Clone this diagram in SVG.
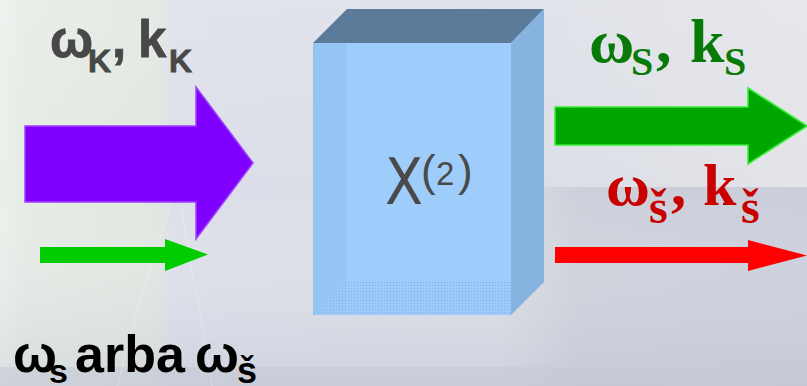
<svg xmlns="http://www.w3.org/2000/svg" width="807" height="386" viewBox="0 0 807 386">
<defs>
<linearGradient id="bgH" x1="0" y1="0" x2="1" y2="0">
<stop offset="0" stop-color="#ecf0ec"/>
<stop offset="0.03" stop-color="#e5ebe5"/>
<stop offset="0.19" stop-color="#e1e7e0"/>
<stop offset="0.215" stop-color="#dcdfe9"/>
<stop offset="0.6" stop-color="#dadde6"/>
<stop offset="1" stop-color="#e3e4e8"/>
</linearGradient>
<linearGradient id="bgV" x1="0" y1="0" x2="0" y2="1">
<stop offset="0" stop-color="#ffffff" stop-opacity="0.15"/>
<stop offset="0.5" stop-color="#ffffff" stop-opacity="0"/>
<stop offset="1" stop-color="#b8bccb" stop-opacity="0.35"/>
</linearGradient>
<linearGradient id="bandR" x1="0" y1="0" x2="1" y2="0">
<stop offset="0" stop-color="#cdd0da" stop-opacity="0"/>
<stop offset="0.25" stop-color="#cdd0da" stop-opacity="1"/>
<stop offset="1" stop-color="#cacedb" stop-opacity="1"/>
</linearGradient>
<pattern id="dots" width="3" height="3" patternUnits="userSpaceOnUse">
<rect width="3" height="3" fill="#9ccaf8"/>
<rect width="1" height="1" fill="#7fa8d4"/>
</pattern>
<style>
.sans{font-family:"Liberation Sans",Arial,sans-serif;font-weight:bold}
.serif{font-family:"Liberation Serif","DejaVu Serif",serif;font-weight:bold}
.grey{fill:#484848}
.green{fill:#087a08}
.red{fill:#c80000}
</style>
</defs>
<g id="background">
<rect width="807" height="386" fill="url(#bgH)"/>
<rect x="500" y="187" width="307" height="199" fill="url(#bandR)"/>
<rect width="807" height="386" fill="url(#bgV)"/>
<rect x="0" y="367" width="807" height="19" fill="#c6c9d5" opacity="0.6"/>
<path d="M172,200 C150,270 130,330 118,386" stroke="#ffffff" stroke-opacity="0.2" stroke-width="1.5" fill="none"/>
<path d="M180,200 C190,270 205,330 212,386" stroke="#ffffff" stroke-opacity="0.18" stroke-width="1.5" fill="none"/>
</g>
<g id="crystal">
<polygon points="313,43 347,9 544,9 511,43" fill="#5c7b9b"/>
<polygon points="511,43 544,9 544,282 511,315" fill="#86b3e0"/>
<rect x="313" y="43" width="198" height="272" fill="#9fcdfb"/>
<rect x="313" y="43" width="34" height="272" fill="#97c5f3"/>
<polygon points="343,282 511,282 511,315 315,315" fill="url(#dots)" opacity="0.8"/>
<text x="385" y="204" font-family="DejaVu Sans,Liberation Sans,sans-serif" fill="#4a4a4a" font-size="64"><tspan textLength="38" lengthAdjust="spacingAndGlyphs">X</tspan><tspan x="421" y="186" font-family="Liberation Sans,sans-serif" font-size="44">(</tspan><tspan x="436" y="185" font-family="Liberation Sans,sans-serif" font-size="33">2</tspan><tspan x="458" y="186" font-family="Liberation Sans,sans-serif" font-size="44">)</tspan></text>
</g>
<g id="connectors">
<polygon id="pump-arrow" points="25,126 196,126 196,87 253,163 196,239 196,202 25,202" fill="#8000ff" stroke="#a040ff" stroke-width="1.5"/>
<polygon id="seed-arrow" points="40,247 165,247 165,239 208,254.5 165,271 165,263 40,263" fill="#00cc00"/>
<polygon id="signal-arrow" points="555,107 748,107 748,88 807,126 748,164 748,145 555,145" fill="#00a600" stroke="#33ee33" stroke-width="1.5"/>
<polygon id="idler-arrow" points="555,247 748,247 748,240 807,255.5 748,271 748,263 555,263" fill="#ff0000"/>
</g>
<g id="label-pump">
<text class="sans grey" x="50" y="57" font-size="51" stroke="#484848" stroke-width="0.8">ω<tspan x="88" y="72" font-size="32">K</tspan><tspan x="112" y="57">,</tspan><tspan x="138" y="57">k</tspan><tspan x="169" y="72" font-size="32">K</tspan></text>
</g>
<g id="label-signal">
<text class="serif green" x="589" y="62" font-size="62">ω<tspan x="631" y="75" font-size="40">S</tspan><tspan x="656" y="62">,</tspan><tspan x="690" y="62">k</tspan><tspan x="724" y="75" font-size="40">S</tspan></text>
</g>
<g id="label-idler">
<text class="serif red" x="606" y="205" font-size="60">ω<tspan x="649" y="223" font-size="48">š</tspan><tspan x="671" y="205">,</tspan><tspan x="703" y="205">k</tspan><tspan x="741" y="223" font-size="48">š</tspan></text>
</g>
<g id="label-input">
<text class="sans" fill="#000000" x="13" y="372" font-size="52">ω<tspan x="49" y="383" font-size="34">s</tspan><tspan x="75" y="372">arba</tspan><tspan x="195" y="372">ω</tspan><tspan x="237" y="383" font-size="36">š</tspan></text>
</g>
</svg>
